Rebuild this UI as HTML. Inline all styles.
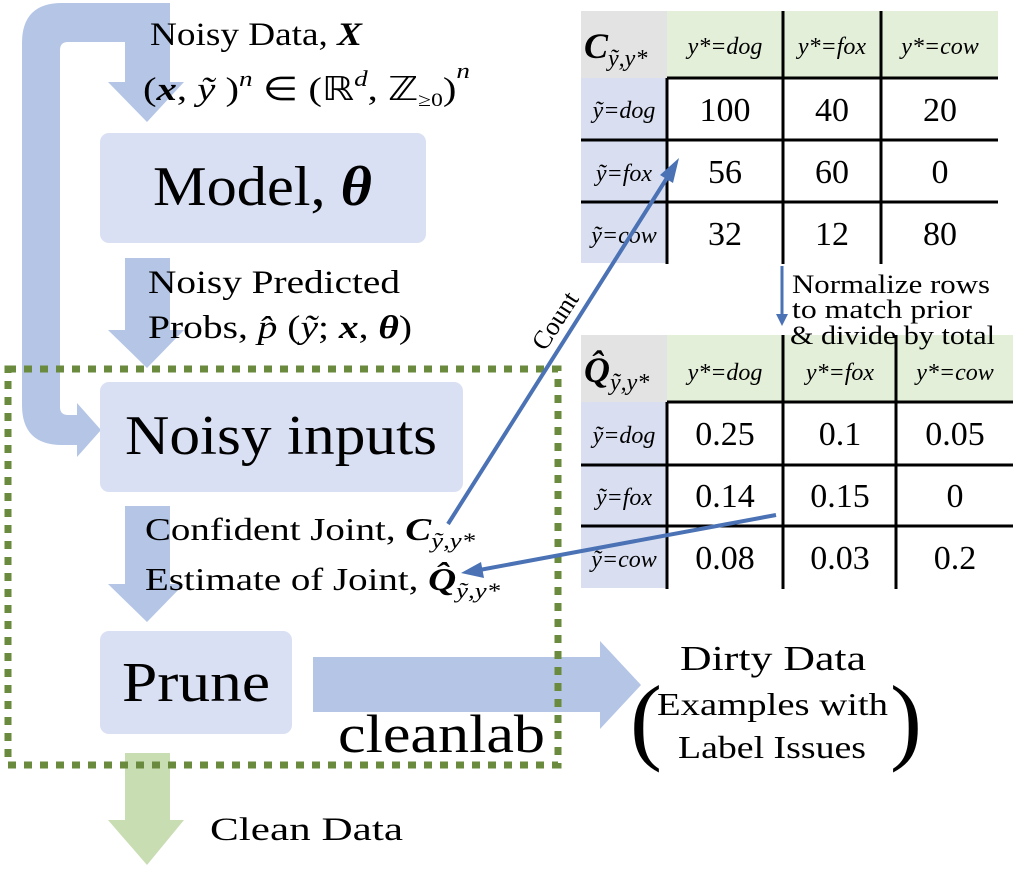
<!DOCTYPE html>
<html><head><meta charset="utf-8"><style>
html,body{margin:0;padding:0;background:#fff;}
svg{display:block;}
text{font-family:"Liberation Serif",serif;fill:#000;}
.it{font-style:italic;}
</style></head><body>
<svg width="1024" height="869" viewBox="0 0 1024 869" xmlns="http://www.w3.org/2000/svg">
<path d="M170,3 L62,3 Q22,3 22,43 L22,405 Q22,445 62,445 L77,445 L77,457 L101,430 L77,403 L77,415 L68,415 Q60,415 60,407 L60,50 Q60,42 68,42 L125,42 L125,82 L108,82 L147,122 L184,82 L170,82 Z" fill="#b4c5e6"/>
<path d="M125,258 L170,258 L170,330 L184,330 L147,368 L108,330 L125,330 Z" fill="#b4c5e6"/>
<path d="M125,506 L170,506 L170,584 L184,584 L147,622 L108,584 L125,584 Z" fill="#b4c5e6"/>
<path d="M125,753 L170,753 L170,820 L184,820 L147,865 L108,820 L125,820 Z" fill="#c9ddb3"/>
<path d="M313,657 L600,657 L600,641 L641,685 L600,729 L600,712 L313,712 Z" fill="#b4c5e6"/>
<rect x="100" y="133" width="326" height="110" rx="9" fill="#dae0f3"/>
<rect x="100" y="382" width="363" height="110" rx="9" fill="#dae0f3"/>
<rect x="100" y="631" width="192" height="103" rx="9" fill="#dae0f3"/>
<rect x="8" y="369" width="550" height="396" fill="none" stroke="#6a8a3e" stroke-width="7" stroke-dasharray="8 8"/>

<text x="150" y="45" font-size="33" textLength="212" lengthAdjust="spacingAndGlyphs">Noisy Data, <tspan font-weight="bold" class="it">X</tspan></text>
<text x="143" y="100" font-size="33" textLength="327" lengthAdjust="spacingAndGlyphs">(<tspan font-weight="bold" class="it">x</tspan>, <tspan class="it">ỹ</tspan> )<tspan class="it" font-size="22" dy="-14">n</tspan><tspan dy="14"> ∈ (ℝ</tspan><tspan class="it" font-size="22" dy="-14">d</tspan><tspan dy="14">, ℤ</tspan><tspan font-size="19" dy="6">≥0</tspan><tspan dy="-6">)</tspan><tspan class="it" font-size="22" dy="-22">n</tspan></text>
<text x="153" y="205" font-size="56" textLength="219" lengthAdjust="spacingAndGlyphs">Model, <tspan font-weight="bold" class="it">θ</tspan></text>
<text x="148" y="293" font-size="33" textLength="252" lengthAdjust="spacingAndGlyphs">Noisy Predicted</text>
<text x="148" y="338" font-size="33" textLength="264" lengthAdjust="spacingAndGlyphs">Probs, <tspan class="it">p̂</tspan> (<tspan class="it">ỹ</tspan>; <tspan font-weight="bold" class="it">x</tspan>, <tspan font-weight="bold" class="it">θ</tspan>)</text>
<text x="125" y="454" font-size="56" textLength="312" lengthAdjust="spacingAndGlyphs">Noisy inputs</text>
<text x="145" y="540" font-size="32" textLength="330" lengthAdjust="spacingAndGlyphs">Confident Joint, <tspan font-weight="bold" class="it">C</tspan><tspan class="it" font-size="22" dy="8">ỹ,y*</tspan></text>
<text x="145" y="590" font-size="32" textLength="355" lengthAdjust="spacingAndGlyphs">Estimate of Joint, <tspan font-weight="bold" class="it">Q̂</tspan><tspan class="it" font-size="22" dy="8">ỹ,y*</tspan></text>
<text x="122" y="701" font-size="56" textLength="148" lengthAdjust="spacingAndGlyphs">Prune</text>
<text x="338" y="752" font-size="54" textLength="207" lengthAdjust="spacingAndGlyphs">cleanlab</text>
<text x="210" y="840" font-size="33" textLength="193" lengthAdjust="spacingAndGlyphs">Clean Data</text>
<text x="680" y="670" font-size="35" textLength="186" lengthAdjust="spacingAndGlyphs">Dirty Data</text>
<text x="657" y="715" font-size="32" textLength="231" lengthAdjust="spacingAndGlyphs">Examples with</text>
<text x="678" y="758" font-size="32" textLength="188" lengthAdjust="spacingAndGlyphs">Label Issues</text>
<text x="630" y="752" font-size="96">(</text>
<text x="890" y="752" font-size="96">)</text>

<rect x="581" y="11" width="86" height="67" fill="#e3e3e3"/>
<rect x="667" y="11" width="331" height="67" fill="#e3efd9"/>
<rect x="581" y="78" width="86" height="185" fill="#d9dff1"/>
<g stroke="#000" stroke-width="3">
<line x1="667" y1="78" x2="667" y2="264"/>
<line x1="783" y1="11" x2="783" y2="264"/>
<line x1="881" y1="11" x2="881" y2="264"/>
<line x1="667" y1="78" x2="998" y2="78"/>
<line x1="581" y1="140" x2="998" y2="140"/>
<line x1="581" y1="202" x2="998" y2="202"/>
</g>
<text x="584" y="58" font-size="36" font-weight="bold" class="it">C<tspan font-size="24" font-weight="normal" dy="8">ỹ,y*</tspan></text>
<g font-size="24" text-anchor="middle">
<text x="725" y="54" class="it">y*=dog</text>
<text x="832" y="54" class="it">y*=fox</text>
<text x="940" y="54" class="it">y*=cow</text>
<text x="624" y="118" class="it">ỹ=dog</text>
<text x="624" y="181" class="it">ỹ=fox</text>
<text x="624" y="243" class="it">ỹ=cow</text>
</g>
<g font-size="34" text-anchor="middle">
<text x="725" y="121">100</text><text x="832" y="121">40</text><text x="940" y="121">20</text>
<text x="725" y="183">56</text><text x="832" y="183">60</text><text x="940" y="183">0</text>
<text x="725" y="245">32</text><text x="832" y="245">12</text><text x="940" y="245">80</text>
</g>

<rect x="581" y="335" width="86" height="67" fill="#e3e3e3"/>
<rect x="667" y="335" width="346" height="67" fill="#e3efd9"/>
<rect x="581" y="402" width="86" height="186" fill="#d9dff1"/>
<g stroke="#000" stroke-width="3">
<line x1="667" y1="402" x2="667" y2="589"/>
<line x1="783" y1="335" x2="783" y2="589"/>
<line x1="896" y1="335" x2="896" y2="589"/>
<line x1="667" y1="402" x2="1013" y2="402"/>
<line x1="581" y1="465" x2="1013" y2="465"/>
<line x1="581" y1="526" x2="1013" y2="526"/>
</g>
<text x="584" y="382" font-size="36" font-weight="bold" class="it">Q̂<tspan font-size="24" font-weight="normal" dy="8">ỹ,y*</tspan></text>
<g font-size="24" text-anchor="middle">
<text x="725" y="380" class="it">y*=dog</text>
<text x="840" y="380" class="it">y*=fox</text>
<text x="955" y="380" class="it">y*=cow</text>
<text x="624" y="443" class="it">ỹ=dog</text>
<text x="624" y="505" class="it">ỹ=fox</text>
<text x="624" y="567" class="it">ỹ=cow</text>
</g>
<g font-size="34" text-anchor="middle">
<text x="725" y="445">0.25</text><text x="840" y="445">0.1</text><text x="955" y="445">0.05</text>
<text x="725" y="507">0.14</text><text x="840" y="507">0.15</text><text x="955" y="507">0</text>
<text x="725" y="569">0.08</text><text x="840" y="569">0.03</text><text x="955" y="569">0.2</text>
</g>

<line x1="782" y1="266" x2="782" y2="316" stroke="#4a72b4" stroke-width="3"/>
<polygon points="776,314 788,314 782,326" fill="#4a72b4"/>
<text x="792" y="293" font-size="26" textLength="198" lengthAdjust="spacingAndGlyphs">Normalize rows</text>
<text x="792" y="318" font-size="26" textLength="180" lengthAdjust="spacingAndGlyphs">to match prior</text>
<text x="790" y="344" font-size="26" textLength="205" lengthAdjust="spacingAndGlyphs">&amp; divide by total</text>

<line x1="448" y1="524" x2="672" y2="170" stroke="#4a72b4" stroke-width="4"/>
<polygon points="679,158 673,183 660,175" fill="#4a72b4"/>
<text x="0" y="0" font-size="26" transform="translate(545,352) rotate(-57)">Count</text>
<line x1="776" y1="515" x2="474" y2="571" stroke="#4a72b4" stroke-width="4"/>
<polygon points="461,573 481,562 484,578" fill="#4a72b4"/>
</svg>
</body></html>
